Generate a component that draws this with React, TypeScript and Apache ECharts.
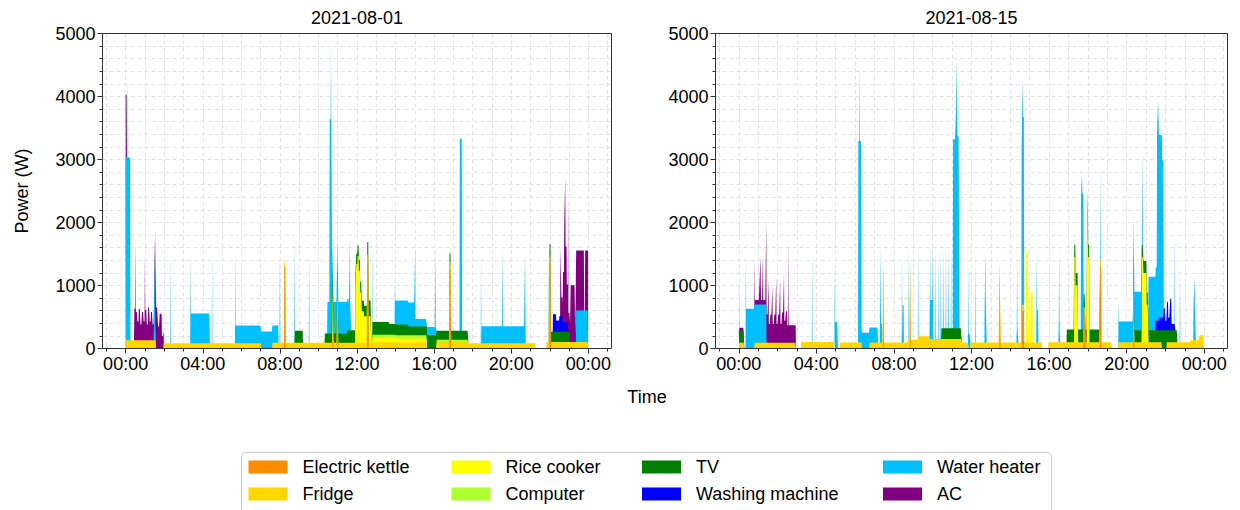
import React, { useEffect, useRef } from "react";
import * as echarts from "echarts";

type Seg = [string, string, number];

const FONT = "'Liberation Sans', Arial, sans-serif";
const SERIES_NAMES = ["Electric kettle", "Fridge", "Rice cooker", "Computer", "TV", "Washing machine", "Water heater", "AC"];
const SERIES_COLORS = ["#FF8C00", "#FFD700", "#FFFF00", "#ADFF2F", "#008000", "#0000FF", "#00BFFF", "#800080"];
const DAY_TITLES = ["2021-08-01", "2021-08-15"];
const MAJOR_HOURS = [0, 4, 8, 12, 16, 20, 24];
const MINOR_HOURS = [-1, 0, 1, 2, 3, 4, 5, 6, 7, 8, 9, 10, 11, 12, 13, 14, 15, 16, 17, 18, 19, 20, 21, 22, 23, 24, 25];

// ---- 2021-08-01 : [start, end (inclusive minute), watts] ----
const kettleAug01: Seg[] = [
  ["08:14", "08:17", 1300], ["10:44", "10:46", 250], ["10:59", "11:01", 1000],
  ["12:32", "12:35", 1400], ["16:48", "16:52", 1230], ["21:59", "22:03", 1350],
];
const fridgeAug01: Seg[] = [
  ["00:00", "01:34", 130], ["01:58", "07:01", 85], ["07:37", "12:44", 90],
  ["12:48", "15:37", 100], ["16:08", "17:46", 100], ["17:47", "21:14", 85], ["21:50", "23:59", 105],
];
const riceAug01: Seg[] = [
  ["10:44", "10:46", 700], ["11:55", "11:57", 900], ["11:58", "12:01", 1250], ["12:02", "12:05", 1380],
  ["12:06", "12:09", 1150], ["12:10", "12:14", 800], ["12:15", "12:21", 500], ["12:22", "12:31", 420],
  ["12:36", "12:44", 420], ["12:48", "13:59", 70], ["14:00", "15:37", 60],
];
const computerAug01: Seg[] = [["12:48", "15:37", 50], ["16:08", "17:46", 40]];
const tvAug01: Seg[] = [
  ["08:47", "09:11", 190], ["10:20", "10:43", 150], ["10:44", "10:46", 300], ["10:47", "11:29", 150],
  ["11:30", "11:54", 200], ["11:55", "12:31", 170], ["12:32", "12:35", 200], ["12:36", "12:44", 250],
  ["12:48", "13:39", 200], ["13:40", "14:39", 170], ["14:40", "15:37", 140], ["15:38", "16:07", 210],
  ["16:08", "17:46", 140], ["21:59", "22:03", 200], ["22:04", "23:02", 160],
];
const washerAug01: Seg[] = [
  ["22:10", "22:19", 280], ["22:20", "22:29", 180], ["22:30", "22:39", 250], ["22:40", "22:57", 150],
];
const heaterAug01: Seg[] = [
  ["00:00", "00:14", 2900], ["00:07", "00:07", 4300], ["01:28", "01:33", 300], ["01:31", "01:31", 1400],
  ["02:20", "02:20", 1470], ["03:22", "04:21", 470], ["03:22", "03:22", 1480], ["04:29", "04:29", 1480],
  ["05:41", "06:59", 280], ["05:41", "05:41", 1530], ["07:00", "07:36", 270], ["07:37", "07:55", 275],
  ["08:00", "08:00", 1530], ["08:46", "08:46", 1700], ["09:31", "09:31", 1500],
  ["10:28", "10:34", 500], ["10:35", "10:42", 3400], ["10:39", "10:39", 4600], ["10:43", "11:34", 500],
  ["11:35", "11:41", 420], ["11:38", "11:38", 1480], ["12:47", "12:47", 1700],
  ["13:58", "15:00", 380], ["13:58", "13:58", 750], ["15:01", "15:37", 120], ["15:01", "15:01", 1250],
  ["15:38", "16:07", 130], ["16:04", "16:04", 1400], ["17:20", "17:26", 3050],
  ["18:26", "18:26", 1470], ["18:28", "20:44", 270], ["19:33", "19:33", 1500], ["20:41", "20:44", 690],
  ["20:43", "20:43", 1420], ["21:57", "21:57", 1450], ["23:22", "23:59", 500],
];
const acAug01: Seg[] = [
  ["00:00", "00:03", 1000], ["00:27", "00:30", 500], ["00:31", "00:31", 1650], ["00:32", "00:36", 450],
  ["00:37", "00:40", 300], ["00:41", "00:45", 500], ["00:46", "00:50", 250], ["00:51", "00:55", 450],
  ["00:56", "00:59", 300], ["01:00", "01:00", 1380], ["01:01", "01:05", 480], ["01:06", "01:09", 250],
  ["01:10", "01:14", 520], ["01:15", "01:18", 300], ["01:19", "01:23", 450], ["01:24", "01:27", 250],
  ["01:28", "01:33", 250], ["01:34", "01:34", 1800], ["01:35", "01:40", 650], ["01:41", "01:45", 350],
  ["01:46", "01:52", 550], ["01:53", "01:58", 200],
  ["22:33", "22:35", 1100], ["22:36", "22:40", 300], ["22:41", "22:44", 800], ["22:45", "22:47", 1600],
  ["22:48", "22:48", 2300], ["22:49", "22:52", 1200], ["22:53", "22:56", 600], ["22:57", "22:57", 2000],
  ["22:58", "23:04", 300], ["23:05", "23:18", 900], ["23:19", "23:21", 100], ["23:22", "23:46", 950],
  ["23:47", "23:49", 0], ["23:50", "23:59", 950],
];

// ---- 2021-08-15 ----
const kettleAug15: Seg[] = [
  ["07:27", "07:28", 1320], ["08:50", "08:51", 1300], ["13:27", "13:29", 1300], ["14:36", "14:42", 600],
  ["17:47", "17:52", 560], ["18:38", "18:41", 1300], ["20:21", "20:23", 1250],
];
const fridgeAug15: Seg[] = [
  ["00:00", "00:16", 90], ["00:49", "02:56", 90], ["03:13", "04:56", 105], ["05:14", "06:20", 95],
  ["06:45", "08:43", 95], ["08:44", "09:14", 140], ["09:15", "09:50", 195], ["09:51", "11:29", 150],
  ["11:30", "11:49", 95], ["11:57", "15:37", 95], ["15:58", "19:14", 100], ["19:35", "21:48", 100],
  ["22:04", "23:17", 100], ["23:18", "23:44", 130], ["23:45", "23:59", 210],
];
const riceAug15: Seg[] = [
  ["14:49", "14:52", 1450], ["14:53", "14:57", 900], ["15:03", "15:10", 800], ["17:18", "17:21", 1350],
  ["17:22", "17:29", 900], ["17:57", "18:04", 1350], ["18:00", "18:00", 2200], ["20:47", "20:51", 1350],
  ["20:52", "21:01", 1100], ["21:02", "21:07", 600],
];
const computerAug15: Seg[] = [];
const tvAug15: Seg[] = [
  ["00:00", "00:16", 190], ["10:27", "11:29", 170], ["16:55", "18:37", 200], ["20:20", "21:48", 190],
  ["21:49", "22:03", 290], ["22:04", "22:36", 190],
];
const washerAug15: Seg[] = [
  ["21:30", "21:39", 150], ["21:40", "21:54", 200], ["21:55", "21:59", 350], ["22:00", "22:04", 150],
  ["22:05", "22:08", 450], ["22:09", "22:14", 200], ["22:15", "22:18", 500], ["22:19", "22:30", 100],
];
const heaterAug15: Seg[] = [
  ["00:22", "00:22", 1500], ["00:23", "00:48", 630], ["00:49", "01:25", 610], ["03:47", "03:47", 1500],
  ["04:57", "05:06", 420], ["04:57", "04:57", 1350], ["06:10", "06:19", 3200], ["06:14", "06:14", 4400],
  ["06:20", "06:44", 250], ["06:45", "07:10", 240], ["07:17", "07:24", 300], ["07:19", "07:19", 1530],
  ["08:25", "08:25", 1460], ["08:27", "08:30", 590], ["08:46", "08:46", 1530], ["09:15", "09:15", 1430],
  ["09:51", "10:01", 620], ["09:52", "09:52", 1500], ["10:01", "10:01", 1480], ["10:09", "10:09", 1500],
  ["10:17", "10:17", 1450], ["10:25", "10:25", 1500], ["10:33", "10:33", 1340], ["10:41", "10:41", 1520],
  ["10:49", "10:49", 1340], ["10:57", "10:57", 1320],
  ["11:03", "11:11", 3000], ["11:12", "11:16", 3470], ["11:14", "11:14", 4300], ["11:17", "11:22", 3050],
  ["11:50", "11:56", 240], ["11:50", "11:50", 1450], ["12:13", "12:13", 1450], ["12:41", "12:46", 670],
  ["12:43", "12:43", 1450], ["14:20", "14:24", 240], ["14:21", "14:21", 1450], ["14:35", "14:42", 2980],
  ["14:38", "14:38", 3600], ["15:21", "15:26", 520], ["15:22", "15:22", 1450], ["16:30", "16:33", 400],
  ["16:31", "16:31", 1490], ["17:39", "17:46", 2160], ["17:42", "17:42", 2480], ["18:39", "18:39", 1500],
  ["19:35", "20:20", 330], ["19:35", "19:35", 700], ["20:21", "20:46", 610], ["20:49", "20:49", 1500],
  ["21:08", "21:33", 850], ["21:34", "21:36", 3000], ["21:37", "21:39", 3500], ["21:40", "21:49", 2900],
  ["21:50", "21:54", 2500], ["22:27", "22:27", 1500], ["22:45", "22:45", 1250], ["23:27", "23:33", 590],
  ["23:30", "23:30", 1000],
];
const acAug15: Seg[] = [
  ["00:00", "00:01", 860], ["00:02", "00:16", 50], ["00:49", "01:25", 70], ["00:49", "00:49", 750],
  ["01:04", "01:08", 330], ["01:07", "01:07", 750], ["01:15", "01:15", 800], ["01:25", "01:25", 1300],
  ["01:26", "01:31", 450], ["01:32", "01:32", 1000], ["01:33", "01:37", 300], ["01:38", "01:43", 450],
  ["01:44", "01:44", 900], ["01:45", "01:49", 300], ["01:50", "01:55", 450], ["01:56", "01:56", 1050],
  ["01:57", "02:01", 300], ["02:02", "02:07", 450], ["02:08", "02:08", 1000], ["02:09", "02:13", 300],
  ["02:14", "02:19", 480], ["02:20", "02:20", 1100], ["02:21", "02:25", 350], ["02:26", "02:29", 500],
  ["02:30", "02:56", 280], ["02:34", "02:34", 1700],
];

const DAYS: Seg[][][] = [
  [kettleAug01, fridgeAug01, riceAug01, computerAug01, tvAug01, washerAug01, heaterAug01, acAug01],
  [kettleAug15, fridgeAug15, riceAug15, computerAug15, tvAug15, washerAug15, heaterAug15, acAug15],
];

const MINUTES = 1440;
const toMin = (t: string) => {
  const [h, m] = t.split(":").map(Number);
  return h * 60 + m;
};
function expand(segs: Seg[]): number[] {
  const a: number[] = new Array(MINUTES).fill(0);
  segs.forEach(([s, e, v]) => {
    for (let m = toMin(s); m <= toMin(e); m++) a[m] = v;
  });
  return a;
}

const GRIDS = [
  { left: 102.5, top: 33.5, width: 509, height: 315 },
  { left: 715.5, top: 33.5, width: 512, height: 315 },
];
const LEGEND_LEFTS = [248.5, 451.5, 642, 883];

const hourLabel = (v: number) => String(((v % 24) + 24) % 24).padStart(2, "0") + ":00";
const gridLine = { color: "#e2e2e2", width: 1, type: [4, 3] as any };
const axisCol = "#333";

export default function App() {
  const ref = useRef<HTMLDivElement>(null);
  useEffect(() => {
    if (!ref.current) return;
    const chart = echarts.init(ref.current, undefined, { renderer: "svg" });
    const xAxis: any[] = [];
    const yAxis: any[] = [];
    GRIDS.forEach((_, g) => {
      xAxis.push({
        type: "value", gridIndex: g, min: -1.2, max: 25.2, position: "bottom",
        axisLine: { show: false, onZero: false },
        axisTick: { show: true, customValues: MAJOR_HOURS, length: 5, lineStyle: { color: axisCol, width: 1 } },
        axisLabel: { customValues: MAJOR_HOURS, formatter: hourLabel, fontSize: 18, color: "#000", fontFamily: FONT, margin: 6 },
        splitLine: { show: false },
      });
      xAxis.push({
        type: "value", gridIndex: g, min: -1.2, max: 25.2, position: "bottom",
        axisLine: { show: false, onZero: false },
        axisTick: { show: true, customValues: MINOR_HOURS, length: 3, lineStyle: { color: axisCol, width: 1 } },
        axisLabel: { show: false, customValues: MINOR_HOURS },
        splitLine: { show: true, lineStyle: gridLine },
      });
      yAxis.push({
        type: "value", gridIndex: g, min: 0, max: 5000, interval: 1000, position: "left",
        axisLine: { show: false, onZero: false },
        axisTick: { show: true, length: 5, lineStyle: { color: axisCol, width: 1 } },
        minorTick: { show: true, splitNumber: 5, length: 3, lineStyle: { color: axisCol, width: 1 } },
        axisLabel: { formatter: (v: number) => String(v), fontSize: 18, color: "#000", fontFamily: FONT, margin: 7 },
        splitLine: { show: true, lineStyle: gridLine },
        minorSplitLine: { show: true, lineStyle: gridLine },
        name: g === 0 ? "Power (W)" : "",
        nameLocation: "middle",
        nameGap: 72,
        nameTextStyle: { fontSize: 18, color: "#000", fontFamily: FONT },
      });
    });

    // Stacked areas: cumulative totals, drawn from the top layer down so lower layers paint over.
    // Where a layer is off (and its neighbours too) it is left empty, so no hidden layer fringes.
    const series: any[] = [];
    DAYS.forEach((day, d) => {
      const vals = day.map(expand);
      const cum: number[][] = [];
      vals.forEach((arr, i) => {
        cum.push(arr.map((v, m) => v + (i > 0 ? cum[i - 1][m] : 0)));
      });
      for (let i = SERIES_NAMES.length - 1; i >= 0; i--) {
        const color = SERIES_COLORS[i];
        const own = vals[i];
        series.push({
          type: "line", name: SERIES_NAMES[i], xAxisIndex: d * 2, yAxisIndex: d,
          data: cum[i].map((v, m) => {
            const on = own[m] > 0 || (m > 0 && own[m - 1] > 0) || (m < MINUTES - 1 && own[m + 1] > 0);
            return [m / 60, on ? v : null];
          }),
          connectNulls: false,
          symbol: "none", showSymbol: false, color,
          lineStyle: { width: 0 }, itemStyle: { color },
          areaStyle: { color, opacity: 1 },
          silent: true, emphasis: { disabled: true }, animation: false,
        });
      }
    });

    const legend = LEGEND_LEFTS.map((left, col) => ({
      orient: "vertical", left, top: 458, padding: 0, itemGap: 9,
      itemWidth: 39, itemHeight: 13, icon: "rect", selectedMode: false,
      data: SERIES_NAMES.slice(col * 2, col * 2 + 2).map((name) => ({
        name, itemStyle: { color: SERIES_COLORS[SERIES_NAMES.indexOf(name)] },
      })),
      textStyle: { fontSize: 18, lineHeight: 18, color: "#000", fontFamily: FONT, padding: [0, 0, 0, 10] },
    }));

    const textStyle = (text: string) => ({
      text, fontSize: 18, fontFamily: FONT, fill: "#000",
      textAlign: "center", textVerticalAlign: "middle", align: "center", verticalAlign: "middle",
    });

    chart.setOption({
      animation: false,
      grid: GRIDS.map((g) => ({ ...g, show: false, containLabel: false })),
      xAxis, yAxis, series, legend,
      graphic: [
        { type: "text", x: GRIDS[0].left + GRIDS[0].width / 2, y: 18, style: textStyle(DAY_TITLES[0]), silent: true },
        { type: "text", x: GRIDS[1].left + GRIDS[1].width / 2, y: 18, style: textStyle(DAY_TITLES[1]), silent: true },
        { type: "text", x: 647, y: 397, style: textStyle("Time"), silent: true },
        ...GRIDS.map((g) => ({
          type: "rect", z: 100, silent: true,
          shape: { x: g.left, y: g.top, width: g.width, height: g.height },
          style: { fill: "none", stroke: axisCol, lineWidth: 1 },
        })),
        { type: "rect", shape: { x: 241.5, y: 452.5, width: 810, height: 80, r: 4 }, style: { fill: "none", stroke: "#cccccc", lineWidth: 1 }, silent: true, z: -1 },
      ],
    });
    return () => chart.dispose();
  }, []);
  return <div ref={ref} style={{ position: "fixed", left: 0, top: 0, width: 1240, height: 510, background: "#fff" }} />;
}
